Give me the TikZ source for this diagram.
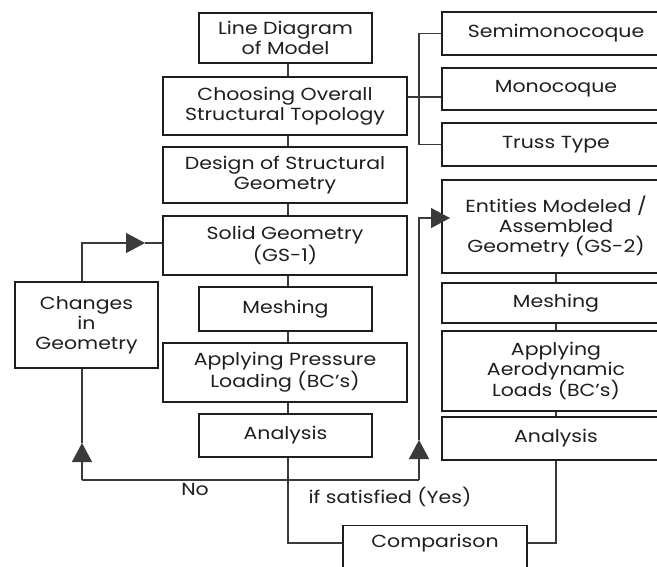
\documentclass[tikz,border=0pt]{standalone}
\usepackage{fontspec}
\setmainfont{Poppins}[FakeStretch=1.17]
\usetikzlibrary{arrows.meta}
\definecolor{ink}{HTML}{1E1E1E}
\definecolor{wire}{HTML}{3A3A3A}
\begin{document}
\begin{tikzpicture}[x=1pt,y=-1pt,
  box/.style={draw=ink,line width=1.3pt,fill=white,align=center,inner sep=0pt,text=ink,
    font=\fontsize{17.5}{20}\selectfont},
  wire/.style={draw=wire,line width=1.3pt},
  tri/.style={-{Triangle[length=19pt,width=20pt]}},
  lbl/.style={text=ink,font=\fontsize{17.5}{20}\selectfont,inner sep=0pt}]
\useasboundingbox (0,0) rectangle (657,566);
\clip (0,0) rectangle (657,566);
\fill[white] (0,0) rectangle (657,566);
% left column
\node[box,minimum width=173pt,minimum height=50pt] (ld) at (285.5,38) {Line Diagram\\of Model};
\node[box,minimum width=244pt,minimum height=58pt] (ch) at (285,106) {Choosing Overall\\Structural Topology};
\node[box,minimum width=244pt,minimum height=56pt] (de) at (285,175) {Design of Structural\\Geometry};
\node[box,minimum width=244pt,minimum height=59pt] (sg) at (285,245.5) {Solid Geometry\\(GS-1)};
\node[box,minimum width=173pt,minimum height=44pt] (me) at (285.5,309) {Meshing};
\node[box,minimum width=244pt,minimum height=59pt] (ap) at (285,372.5) {Applying Pressure\\Loading (BC's)};
\node[box,minimum width=173pt,minimum height=43pt] (an) at (285.5,435.5) {Analysis};
\node[box,minimum width=143pt,minimum height=86pt] (cg) at (86.5,325) {Changes\\in\\Geometry};
% right column
\node[box,minimum width=228pt,minimum height=43pt] (sm) at (556,33.5) {Semimonocoque};
\node[box,minimum width=228pt,minimum height=42pt] (mo) at (556,89) {Monocoque};
\node[box,minimum width=228pt,minimum height=43pt] (tt) at (556,144.5) {Truss Type};
\node[box,minimum width=228pt,minimum height=93pt] (en) at (556,226.5) {Entities Modeled /\\Assembled\\Geometry (GS-2)};
\node[box,minimum width=228pt,minimum height=40pt] (me2) at (556,303) {Meshing};
\node[box,minimum width=228pt,minimum height=80pt] (ap2) at (556,371) {Applying\\Aerodynamic\\Loads (BC's)};
\node[box,minimum width=228pt,minimum height=43pt] (an2) at (556,438.5) {Analysis};
% comparison
\node[box,minimum width=184pt,minimum height=50pt,anchor=north] (cp) at (435,525) {};
\node[lbl] (cpt) at (435,543) {Comparison};
% labels
\node[lbl] (no) at (195,489) {No};
\node[lbl] (yes) at (390,497) {if satisfied (Yes)};
% coordinates
\coordinate (j) at (288,480);
\coordinate (bx) at (419,97);
\coordinate (lt) at (82,243);
\coordinate (lb) at (82,480);
\coordinate (la) at (82,443);
\coordinate (ra) at (419,440);
\coordinate (rb) at (419,480);
\coordinate (rt) at (419,218);
\coordinate (sa) at (145,243);
\coordinate (ea) at (450,218);
% main trunk
\draw[wire] (ld.south -| j) -- (ch.north -| j);
\draw[wire] (ch.south -| j) -- (de.north -| j);
\draw[wire] (de.south -| j) -- (sg.north -| j);
\draw[wire] (sg.south -| j) -- (me.north -| j);
\draw[wire] (me.south -| j) -- (ap.north -| j);
\draw[wire] (ap.south -| j) -- (an.north -| j);
\draw[wire] (an.south -| j) -- (j) -- (cpt -| j) -- (cpt -| cp.west);
% topology bracket
\draw[wire] (ch.east |- bx) -- (bx);
\draw[wire] (sm.west) -| (tt.west -| bx) -- (tt.west);
\draw[wire] (bx) -- (mo.west |- bx);
% loop back (No)
\draw[wire] (j) -- (lb);
\draw[wire,tri] (lb) -- (la);
\draw[wire] (la) -- (cg.south -| la);
\draw[wire,tri] (cg.north -| lt) -- (lt) -- (sa);
\draw[wire] (sa) -- (sg.west |- sa);
% yes branch
\draw[wire] (j) -- (rb);
\draw[wire,tri] (rb) -- (ra);
\draw[wire,tri] (ra) -- (rt) -- (ea);
% right column trunk
\draw[wire] (en.south) -- (me2.north);
\draw[wire] (me2.south) -- (ap2.north);
\draw[wire] (ap2.south) -- (an2.north);
\draw[wire] (an2.south) |- (cpt -| cp.east);
\end{tikzpicture}
\end{document}
